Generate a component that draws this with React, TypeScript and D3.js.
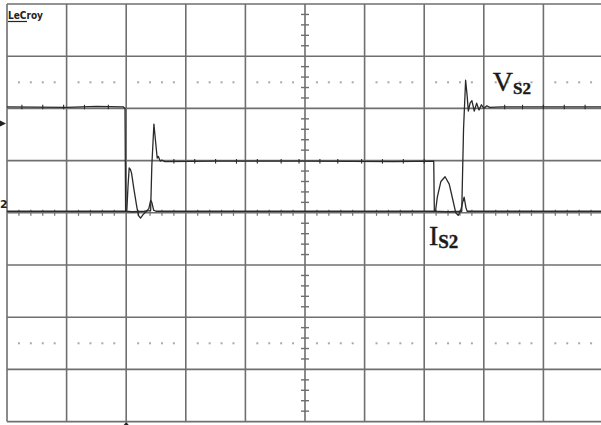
import React from 'react';
import * as d3 from 'd3';

const width = 601,
  height = 425;

// screen grid: 10 x 8 divisions, right border falls just outside the picture
const xDivs = d3.range(0, 11);
const yDivs = d3.range(-4, 5);

// traces in divisions: [time, level]
const vs2Trace: [number, number][] = [
  [0, 2.03], [1.0, 2.02], [1.5, 2.04], [1.95, 2.03], [1.98, 2.0], [1.99, 0.03],
  [2.1, 0.02], [2.3, 0.03], [2.41, 0.04], [2.43, 0.9], [2.465, 1.7], [2.49, 1.4],
  [2.52, 1.05], [2.54, 1.08], [2.57, 0.99], [2.6, 1.01], [2.65, 0.98], [3.5, 0.99],
  [5.0, 0.99], [6.5, 0.98], [7.16, 0.99], [7.17, 0.03], [7.4, 0.02], [7.63, 0.03],
  [7.66, 1.6], [7.695, 2.54], [7.72, 2.25], [7.74, 1.95], [7.77, 2.1], [7.8, 2.15],
  [7.84, 1.95], [7.88, 2.1], [7.92, 1.97], [7.96, 2.07], [8.0, 2.0], [8.05, 2.05],
  [8.1, 2.02], [8.3, 2.03], [10, 2.03],
];

const is2Trace: [number, number][] = [
  [0, 0.03], [1.0, 0.03], [2.01, 0.03], [2.03, 0.5], [2.05, 0.86], [2.07, 0.83],
  [2.09, 0.76], [2.13, 0.45], [2.18, 0.1], [2.21, -0.06], [2.24, -0.1], [2.28, -0.04],
  [2.33, 0.02], [2.38, 0.08], [2.41, 0.24], [2.43, 0.2], [2.46, 0.05], [2.5, 0.03],
  [4.0, 0.03], [7.19, 0.03], [7.22, 0.3], [7.28, 0.6], [7.35, 0.69], [7.42, 0.55],
  [7.48, 0.25], [7.53, 0.0], [7.57, -0.05], [7.61, 0.03], [7.645, 0.2], [7.67, 0.3],
  [7.7, 0.1], [7.72, 0.03], [10, 0.03],
];

// small noise marks seen on the flat parts of the traces: [time, level]
const vs2Glitches: [number, number][] = [
  [0.25, 2.03], [0.6, 2.03], [0.95, 2.03], [1.3, 2.03], [1.7, 2.03],
  [2.8, 0.99], [3.15, 0.99], [3.5, 0.99], [3.85, 0.99], [4.2, 0.99], [4.6, 0.99],
  [4.9, 0.99], [5.25, 0.99], [5.55, 0.99], [5.95, 0.99], [6.3, 0.99], [6.65, 0.99], [7.0, 0.99],
  [8.35, 2.03], [8.65, 2.03], [9.0, 2.03], [9.35, 2.03], [9.7, 2.03],
];

const traceLabels = [
  { name: 'V', sub: 'S2', t: 8.15, v: 2.33, size: 28, subSize: 17 },
  { name: 'I', sub: 'S2', t: 7.08, v: -0.62, size: 28, subSize: 19 },
];

const dottedRows = [2.5, -2.5];

const x = d3.scaleLinear().domain([0, 10]).range([7, 603]);
const y = d3.scaleLinear().domain([-4, 4]).range([421.6, 4]);

const line = d3
  .line<[number, number]>()
  .x((d) => x(d[0]))
  .y((d) => y(d[1]));

const minor = d3.range(0, 51).map((k) => k * 0.2);
const minorV = d3.range(-20, 21).map((k) => k * 0.2);

export default function App() {
  const gridColor = '#6f6f6f';
  const ink = '#2a2a2a';
  return (
    <svg
      width={width}
      height={height}
      style={{ position: 'absolute', left: 0, top: 0, background: '#fff' }}
    >
      <rect x={0} y={0} width={width} height={height} fill="#fff" />

      {/* dotted rows */}
      {dottedRows.map((v) =>
        minor
          .filter((t, i) => i % 5 !== 0)
          .map((t) => (
            <rect key={v + '-' + t} x={x(t) - 1} y={y(v) - 1} width={2} height={2} fill="#a8a8a8" />
          ))
      )}

      {/* grid */}
      {xDivs.map((t) => (
        <line key={'gx' + t} x1={x(t)} x2={x(t)} y1={y(4)} y2={y(-4)} stroke={gridColor} strokeWidth={1.6} />
      ))}
      {yDivs.map((v) => (
        <line key={'gy' + v} x1={x(0)} x2={x(10)} y1={y(v)} y2={y(v)} stroke={gridColor} strokeWidth={1.6} />
      ))}

      {/* centre axis ticks */}
      {minorV
        .filter((v, i) => i % 5 !== 0)
        .map((v) => (
          <line key={'tv' + v} x1={x(5) - 4} x2={x(5) + 4} y1={y(v)} y2={y(v)} stroke={gridColor} strokeWidth={1.4} />
        ))}
      {minor
        .filter((t, i) => i % 5 !== 0)
        .map((t) => (
          <line key={'th' + t} x1={x(t)} x2={x(t)} y1={y(0) - 3} y2={y(0) + 3} stroke={gridColor} strokeWidth={1.2} />
        ))}

      {/* traces */}
      <path d={line(is2Trace) || ''} fill="none" stroke={ink} strokeWidth={1.3} strokeLinejoin="round" />
      <path d={line(vs2Trace) || ''} fill="none" stroke={ink} strokeWidth={1.3} strokeLinejoin="round" />
      {vs2Glitches.map(([t, v]) => (
        <line key={'gl' + t} x1={x(t)} x2={x(t)} y1={y(v) - 2} y2={y(v) + 2.5} stroke={ink} strokeWidth={1.1} />
      ))}

      {/* labels */}
      {traceLabels.map((l) => (
        <text
          key={l.name}
          x={x(l.t)}
          y={y(l.v)}
          fontFamily="'Liberation Serif', 'DejaVu Serif', serif"
          fill="#1a1a1a"
          stroke="#1a1a1a"
          strokeWidth={0.4}
        >
          <tspan fontSize={l.size}>{l.name}</tspan>
          <tspan fontSize={l.subSize} fontWeight="bold" dy={3}>{l.sub}</tspan>
        </text>
      ))}

      {/* scope marks */}
      <text x={8} y={19} fontFamily="'DejaVu Sans', sans-serif" fontWeight="bold" fontSize={10} textLength={35} lengthAdjust="spacingAndGlyphs" fill="#222">
        LeCroy
      </text>
      <line x1={8} x2={27} y1={21.5} y2={21.5} stroke="#222" strokeWidth={1.2} />
      <path d={`M0,${y(1.71) - 3}L6,${y(1.71)}L0,${y(1.71) + 3}Z`} fill="#222" />
      <text x={0} y={208} fontFamily="'DejaVu Sans', sans-serif" fontWeight="bold" fontSize={11} fill="#222">
        2
      </text>
      <path d={`M${x(2) - 2.5},${height}L${x(2)},${height - 3}L${x(2) + 2.5},${height}Z`} fill="#222" />
    </svg>
  );
}
